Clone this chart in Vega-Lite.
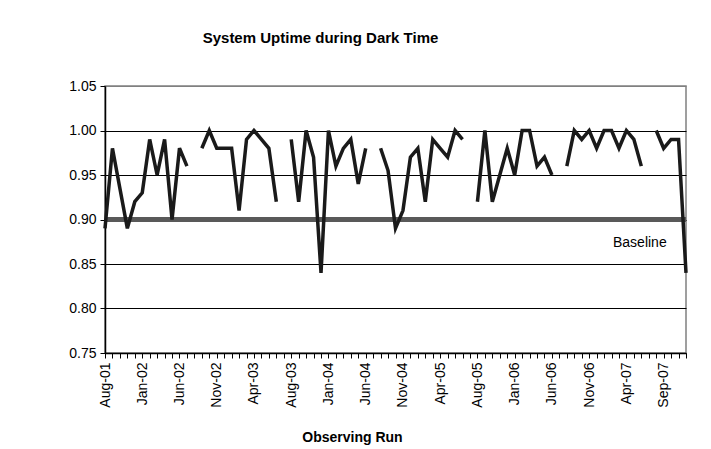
{
  "$schema": "https://vega.github.io/schema/vega-lite/v6.json",
  "width": 581,
  "height": 267,
  "autosize": {"type": "none"},
  "padding": {"left": 105, "top": 86, "right": 25, "bottom": 96},
  "background": "white",
  "config": {
    "font": "Liberation Sans",
    "view": {"stroke": "#808080", "strokeWidth": 1.5}
  },
  "title": {
    "text": "System Uptime during Dark Time",
    "font": "Liberation Sans",
    "fontSize": 15,
    "fontWeight": "bold",
    "color": "#000000",
    "anchor": "middle",
    "dx": -75,
    "baseline": "alphabetic",
    "offset": 21
  },
  "data": {
    "values": [
      {"i": 0, "v": 0.89}, {"i": 1, "v": 0.98}, {"i": 2, "v": 0.935}, {"i": 3, "v": 0.89},
      {"i": 4, "v": 0.92}, {"i": 5, "v": 0.93}, {"i": 6, "v": 0.99}, {"i": 7, "v": 0.95},
      {"i": 8, "v": 0.99}, {"i": 9, "v": 0.90}, {"i": 10, "v": 0.98}, {"i": 11, "v": 0.96},
      {"i": 12, "v": null}, {"i": 13, "v": 0.98}, {"i": 14, "v": 1.00}, {"i": 15, "v": 0.98},
      {"i": 16, "v": 0.98}, {"i": 17, "v": 0.98}, {"i": 18, "v": 0.91}, {"i": 19, "v": 0.99},
      {"i": 20, "v": 1.00}, {"i": 21, "v": 0.99}, {"i": 22, "v": 0.98}, {"i": 23, "v": 0.92},
      {"i": 24, "v": null}, {"i": 25, "v": 0.99}, {"i": 26, "v": 0.92}, {"i": 27, "v": 1.00},
      {"i": 28, "v": 0.97}, {"i": 29, "v": 0.84}, {"i": 30, "v": 1.00}, {"i": 31, "v": 0.96},
      {"i": 32, "v": 0.98}, {"i": 33, "v": 0.99}, {"i": 34, "v": 0.94}, {"i": 35, "v": 0.98},
      {"i": 36, "v": null}, {"i": 37, "v": 0.98}, {"i": 38, "v": 0.955}, {"i": 39, "v": 0.89},
      {"i": 40, "v": 0.91}, {"i": 41, "v": 0.97}, {"i": 42, "v": 0.98}, {"i": 43, "v": 0.92},
      {"i": 44, "v": 0.99}, {"i": 45, "v": 0.98}, {"i": 46, "v": 0.97}, {"i": 47, "v": 1.00},
      {"i": 48, "v": 0.99}, {"i": 49, "v": null}, {"i": 50, "v": 0.92}, {"i": 51, "v": 1.00},
      {"i": 52, "v": 0.92}, {"i": 53, "v": 0.95}, {"i": 54, "v": 0.98}, {"i": 55, "v": 0.95},
      {"i": 56, "v": 1.00}, {"i": 57, "v": 1.00}, {"i": 58, "v": 0.96}, {"i": 59, "v": 0.97},
      {"i": 60, "v": 0.95}, {"i": 61, "v": null}, {"i": 62, "v": 0.96}, {"i": 63, "v": 1.00},
      {"i": 64, "v": 0.99}, {"i": 65, "v": 1.00}, {"i": 66, "v": 0.98}, {"i": 67, "v": 1.00},
      {"i": 68, "v": 1.00}, {"i": 69, "v": 0.98}, {"i": 70, "v": 1.00}, {"i": 71, "v": 0.99},
      {"i": 72, "v": 0.96}, {"i": 73, "v": null}, {"i": 74, "v": 1.00}, {"i": 75, "v": 0.98},
      {"i": 76, "v": 0.99}, {"i": 77, "v": 0.99}, {"i": 78, "v": 0.84}
    ]
  },
  "layer": [
    {
      "mark": {"type": "rule", "color": "#595959", "strokeWidth": 5},
      "data": {"values": [{"baseline": 0.9}]},
      "encoding": {
        "y": {"field": "baseline", "type": "quantitative", "scale": {"domain": [0.75, 1.05]}}
      }
    },
    {
      "mark": {"type": "line", "color": "#1a1a1a", "strokeWidth": 3.5, "invalid": "break-paths-show-domains"},
      "encoding": {
        "x": {
          "field": "i",
          "type": "quantitative",
          "scale": {"domain": [0, 78], "nice": false, "zero": false},
          "axis": {
            "title": "Observing Run",
            "titleFont": "Liberation Sans",
            "titleFontSize": 14,
            "titleFontWeight": "bold",
            "titleColor": "#000000",
            "titleX": 247,
            "titleY": 84,
            "titleBaseline": "middle",
            "tickCount": 200,
            "values": [0,1,2,3,4,5,6,7,8,9,10,11,12,13,14,15,16,17,18,19,20,21,22,23,24,25,26,27,28,29,30,31,32,33,34,35,36,37,38,39,40,41,42,43,44,45,46,47,48,49,50,51,52,53,54,55,56,57,58,59,60,61,62,63,64,65,66,67,68,69,70,71,72,73,74,75,76,77,78],
            "labelExpr": "datum.value % 5 === 0 ? ['Aug-01','Jan-02','Jun-02','Nov-02','Apr-03','Aug-03','Jan-04','Jun-04','Nov-04','Apr-05','Aug-05','Jan-06','Jun-06','Nov-06','Apr-07','Sep-07'][datum.value / 5] : ''",
            "labelAngle": -90,
            "labelFont": "Liberation Sans",
            "labelFontSize": 14,
            "labelColor": "#000000",
            "labelPadding": 4,
            "labelOverlap": false,
            "labelFlush": false,
            "grid": false,
            "domainColor": "#000000",
            "domainWidth": 1.5,
            "tickColor": "#000000",
            "tickSize": 5,
            "tickWidth": 1
          }
        },
        "y": {
          "field": "v",
          "type": "quantitative",
          "scale": {"domain": [0.75, 1.05], "nice": false, "zero": false},
          "axis": {
            "title": null,
            "values": [0.75, 0.8, 0.85, 0.9, 0.95, 1.0, 1.05],
            "format": ".2f",
            "labelFont": "Liberation Sans",
            "labelFontSize": 14,
            "labelColor": "#000000",
            "labelPadding": 4,
            "grid": true,
            "gridColor": {"condition": {"test": "datum.value > 1.04", "value": "#808080"}, "value": "#000000"},
            "gridWidth": 1,
            "domainColor": "#000000",
            "domainWidth": 1.5,
            "tickColor": "#000000",
            "tickSize": 5,
            "labelFlush": false
          }
        }
      }
    },
    {
      "mark": {"type": "text", "font": "Liberation Sans", "fontSize": 14, "color": "#000000", "align": "center", "baseline": "middle"},
      "data": {"values": [{"label": "Baseline", "x": 71.8, "y": 0.874}]},
      "encoding": {
        "x": {"field": "x", "type": "quantitative"},
        "y": {"field": "y", "type": "quantitative"},
        "text": {"field": "label"}
      }
    }
  ]
}
